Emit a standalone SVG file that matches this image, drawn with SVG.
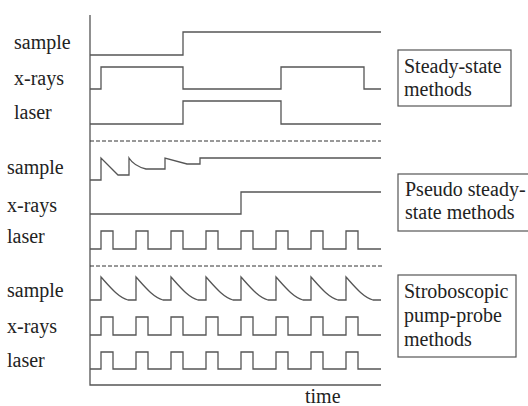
<svg xmlns="http://www.w3.org/2000/svg" width="528" height="406" viewBox="0 0 528 406">
<style>
.sig{fill:none;stroke:#555;stroke-width:1.3;stroke-linejoin:miter}
.dash{fill:none;stroke:#333;stroke-width:1;stroke-dasharray:4 2}
.box{fill:#fff;stroke:#555;stroke-width:1.2}
.t{font-family:'Liberation Serif','Times New Roman',Times,Tinos,'Noto Serif','DejaVu Serif','FreeSerif',Georgia,serif;font-size:20px;fill:#222}
</style>
<rect width="528" height="406" fill="#fff"/>
<g id="axes">
<path class="sig" d="M90,15 V385 H381"/>
<text class="t" x="305" y="403">time</text>
</g>
<g id="separators">
<line class="dash" x1="90" y1="141" x2="381" y2="141"/>
<line class="dash" x1="90" y1="266" x2="384" y2="266"/>
</g>
<g id="steady-state">
<text class="t" x="14" y="49">sample</text>
<text class="t" x="14" y="85">x-rays</text>
<text class="t" x="14" y="119">laser</text>
<path class="sig" d="M90,55 H183 V32 H381"/>
<path class="sig" d="M90,89 H101 V67 H183 V89 H281 V67 H364 V89 H381"/>
<path class="sig" d="M90,124 H183 V101 H281 V124 H381"/>
<rect class="box" x="398" y="50" width="113" height="56"/>
<text class="t" x="404" y="73">Steady-state</text>
<text class="t" x="404" y="96">methods</text>
</g>
<g id="pseudo-steady-state">
<text class="t" x="7" y="174">sample</text>
<text class="t" x="7" y="212">x-rays</text>
<text class="t" x="7" y="243">laser</text>
<path class="sig" d="M90,180 H101 V158 L118,175 H129 V158 Q134,166 146,169 H165 V158 L187,164 H200 V158 H381"/>
<path class="sig" d="M90,214 H241 V192 H381"/>
<path class="sig" d="M90,249 H101 V231 H113 V249 H136 V231 H148 V249 H171 V231 H183 V249 H206 V231 H218 V249 H241 V231 H253 V249 H276 V231 H288 V249 H311 V231 H323 V249 H346 V231 H358 V249 H381"/>
<rect class="box" x="398" y="174" width="132" height="57"/>
<text class="t" x="405" y="196">Pseudo steady-</text>
<text class="t" x="405" y="219">state methods</text>
</g>
<g id="stroboscopic">
<text class="t" x="7" y="297">sample</text>
<text class="t" x="7" y="333">x-rays</text>
<text class="t" x="7" y="367">laser</text>
<path class="sig" d="M90,300 H101 V277 C110,287 118,297 128,300 H136 V277 C145,287 153,297 163,300 H171 V277 C180,287 188,297 198,300 H206 V277 C215,287 223,297 233,300 H241 V277 C250,287 258,297 268,300 H276 V277 C285,287 293,297 303,300 H311 V277 C320,287 328,297 338,300 H346 V277 C355,287 363,297 373,300 H381"/>
<path class="sig" d="M90,335 H101 V317 H113 V335 H136 V317 H148 V335 H171 V317 H183 V335 H206 V317 H218 V335 H241 V317 H253 V335 H276 V317 H288 V335 H311 V317 H323 V335 H346 V317 H358 V335 H381"/>
<path class="sig" d="M90,369 H101 V352 H113 V369 H136 V352 H148 V369 H171 V352 H183 V369 H206 V352 H218 V369 H241 V352 H253 V369 H276 V352 H288 V369 H311 V352 H323 V369 H346 V352 H358 V369 H381"/>
<rect class="box" x="398" y="275" width="118" height="82"/>
<text class="t" x="404" y="298">Stroboscopic</text>
<text class="t" x="404" y="322">pump-probe</text>
<text class="t" x="404" y="346">methods</text>
</g>
</svg>
